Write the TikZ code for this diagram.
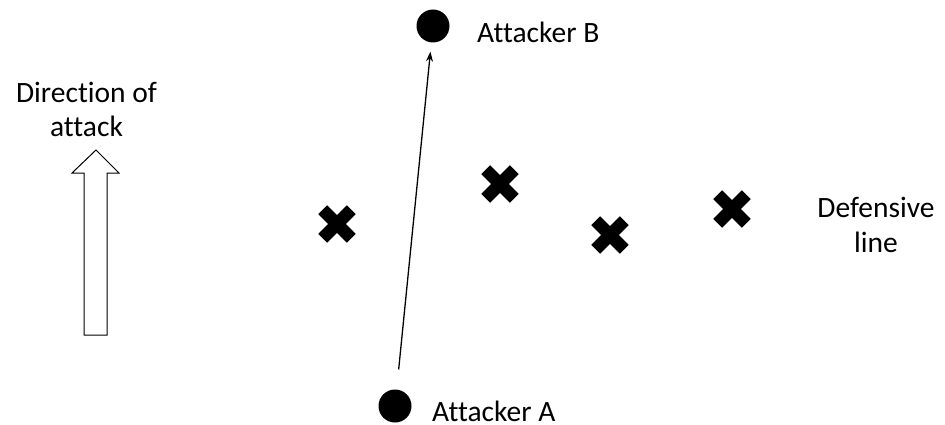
\documentclass[tikz,border=0pt]{standalone}
\usepackage{fontspec}
\setmainfont{Carlito}[Ligatures={NoCommon}]
\usetikzlibrary{arrows.meta}
\tikzset{
  player/.style={circle, fill=black, inner sep=0pt, minimum size=33pt},
  label/.style={font=\fontsize{29.5}{34.5}\selectfont, inner sep=0pt},
  defender/.style={line width=12.5pt, line cap=butt},
  run/.style={line width=1.3pt, -{Stealth[length=10pt, width=7pt]}},
}
\begin{document}
\begin{tikzpicture}[x=1pt, y=-1pt]
  \useasboundingbox (0,0) rectangle (945,425);

  % attackers and the run between them
  \node[player] (A) at (395,406) {};
  \node[player] (B) at (433,26) {};
  \node[label, anchor=base west] (labA) at (432,421) {Attacker A};
  \node[label, anchor=base west] (labB) at (477,43) {Attacker B};
  \draw[run, shorten <=20pt, shorten >=9pt] (A) -- (B);

  % defenders
  \foreach \n/\x/\y in {d1/337/224, d2/500/184, d3/610/235, d4/732/209} {
    \coordinate (\n) at (\x,\y);
    \draw[defender] ([shift={(-14.3,-14.3)}]\n) -- ([shift={(14.3,14.3)}]\n);
    \draw[defender] ([shift={(-14.3,14.3)}]\n) -- ([shift={(14.3,-14.3)}]\n);
  }
  \node[label, align=center, anchor=base] (def) at (876,252) {Defensive\\line};

  % direction of attack
  \node[label, align=center, anchor=base] (dir) at (86.5,137) {Direction of\\attack};
  \draw[line width=1pt, fill=white, line join=miter]
    (84,335) -- (84,173) -- (72,173) -- (96,150) -- (119,173) -- (107,173) -- (107,335) -- cycle;
\end{tikzpicture}
\end{document}
